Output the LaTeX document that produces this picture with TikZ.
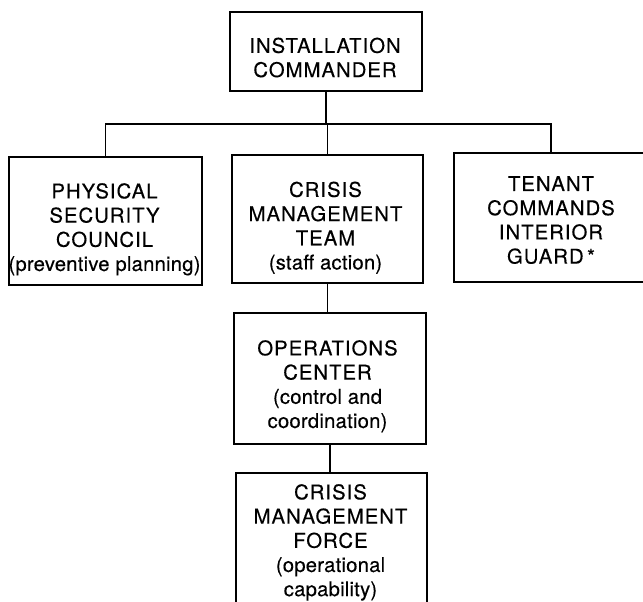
\documentclass[tikz,border=0pt]{standalone}
\usepackage{fontspec}
\newfontfamily\capsfont[LetterSpace=5,FakeBold=0.3]{TeX Gyre Heros}
\newfontfamily\lowfont[LetterSpace=1,FakeBold=0.3]{TeX Gyre Heros}
\newcommand{\lw}[1]{{\lowfont #1}}
\begin{document}
\begin{tikzpicture}[x=1pt,y=-1pt,
  orgbox/.style={draw=black, line width=1.8pt, inner sep=0pt},
  orgtext/.style={inner sep=0pt, anchor=north, align=center,
    font=\capsfont\fontsize{20.3}{24.2}\selectfont},
  link/.style={draw=black, line width=1.6pt}]
\useasboundingbox (0,0) rectangle (643,602);
\clip (0,0) rectangle (643,602);
\fill[white] (0,0) rectangle (643,602);
% boxes
\node[orgbox, minimum width=192pt, minimum height=79pt] (ic) at (326,51.5) {};
\node[orgbox, minimum width=193pt, minimum height=128pt] (psc) at (105.5,221) {};
\node[orgbox, minimum width=191pt, minimum height=128pt] (cmt) at (327.5,219) {};
\node[orgbox, minimum width=194pt, minimum height=129pt] (tci) at (551,217.5) {};
\node[orgbox, minimum width=192pt, minimum height=131pt] (oc) at (330,378.5) {};
\node[orgbox, minimum width=191pt, minimum height=138pt] (cmf) at (331.5,542) {};
% texts
\node[orgtext] (ic-t) at (325,37.5) {INSTALLATION\\COMMANDER};
\node[orgtext] (psc-t) at (104.5,183) {PHYSICAL\\SECURITY\\COUNCIL\\\lw{(preventive planning)}};
\node[orgtext] (cmt-t) at (325.5,181.5) {CRISIS\\MANAGEMENT\\TEAM\\\lw{(staff action)}};
\node[orgtext] (tci-t) at (551,176) {TENANT\\COMMANDS\\INTERIOR\\GUARD\,*};
\node[orgtext] (oc-t) at (327.5,340) {OPERATIONS\\CENTER\\\lw{(control and}\\\lw{coordination)}};
\node[orgtext] (cmf-t) at (330.5,484) {CRISIS\\MANAGEMENT\\FORCE\\\lw{(operational}\\\lw{capability)}};
% connectors
\coordinate (j) at (ic.south |- 0,124);
\path[link] (ic.south) -- (j);
\path[link] (psc.north) -- (psc.north |- j) -- (tci.north |- j) -- (tci.north);
\path[link] (cmt.north |- j) -- (cmt.north);
\path[link] (cmt.south) -- (oc.north -| cmt.south);
\path[link] (oc.south) -- (cmf.north -| oc.south);
\end{tikzpicture}
\end{document}
